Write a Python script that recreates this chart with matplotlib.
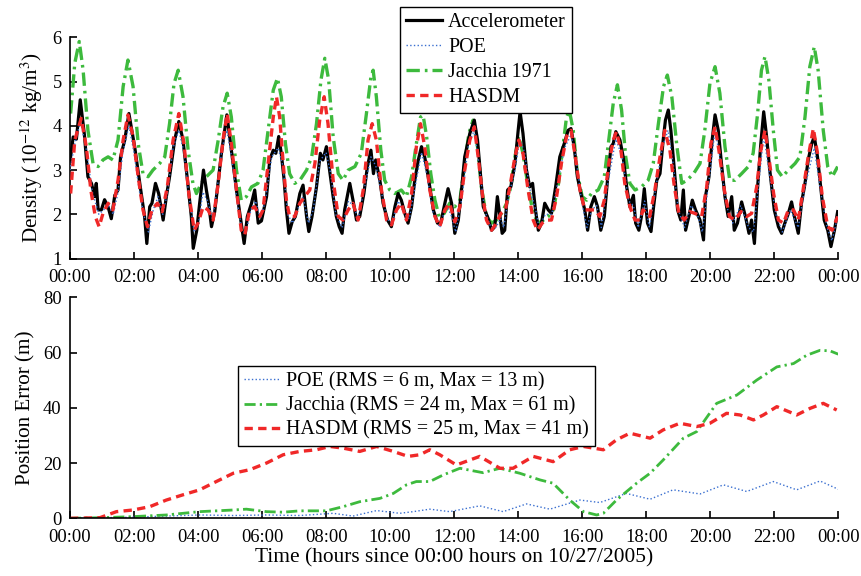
import numpy as np
import matplotlib.pyplot as plt

plt.rcParams['font.family'] = ['Liberation Serif', 'DejaVu Serif']
plt.rcParams['mathtext.fontset'] = 'stix'
plt.rcParams['font.size'] = 13.3

# ---- density (top), time in hours since 00:00
acc_t = [0.0, 0.1, 0.2, 0.32, 0.45, 0.56, 0.67, 0.77, 0.82, 0.88, 0.98, 1.08, 1.19, 1.29, 1.4, 1.5, 1.58, 1.71, 1.84,
         2.02, 2.18, 2.33, 2.4, 2.49, 2.56, 2.67, 2.77, 2.91, 3.01, 3.11, 3.27, 3.4,
         3.53, 3.67, 3.79, 3.85, 3.96, 4.05, 4.17, 4.26, 4.33, 4.42, 4.52, 4.6, 4.73, 4.9,
         5.04, 5.2, 5.35, 5.44, 5.54, 5.67, 5.77, 5.88, 5.98,
         6.14, 6.24, 6.35, 6.43, 6.52, 6.6, 6.69, 6.76, 6.84, 6.94, 7.04, 7.18, 7.28, 7.39, 7.46, 7.56, 7.7, 7.82, 7.9, 8.01,
         8.11, 8.22, 8.32, 8.41, 8.5, 8.58, 8.74, 8.84, 8.95, 9.05, 9.18, 9.29, 9.4, 9.48, 9.55, 9.68, 9.78, 9.92,
         10.04, 10.15, 10.25, 10.35, 10.46, 10.56, 10.67, 10.77, 10.88, 10.98, 11.08, 11.19, 11.35, 11.48, 11.58,
         11.71, 11.81, 11.92, 12.02, 12.13, 12.23, 12.33, 12.49, 12.63, 12.73, 12.83, 12.91, 13.04, 13.17, 13.27,
         13.35, 13.43, 13.5, 13.58, 13.67, 13.77, 13.9, 14.0, 14.06, 14.15, 14.26, 14.36, 14.45, 14.54, 14.63,
         14.73, 14.83, 14.94, 15.04, 15.17, 15.3, 15.44, 15.56, 15.65, 15.75, 15.85, 15.98, 16.08, 16.17, 16.27,
         16.38, 16.48, 16.58, 16.69, 16.79, 16.9, 16.97, 17.05, 17.18, 17.28, 17.39, 17.49, 17.6, 17.67, 17.77,
         17.85, 17.94, 18.04, 18.15, 18.23, 18.33, 18.43, 18.53, 18.6, 18.69, 18.77, 18.88, 18.98, 19.08, 19.16,
         19.23, 19.33, 19.44, 19.54, 19.68, 19.79, 19.85, 19.96, 20.06, 20.15, 20.25, 20.35, 20.46, 20.56, 20.67,
         20.75, 20.85, 20.98, 21.1, 21.21, 21.29, 21.38, 21.48, 21.58, 21.67, 21.76, 21.86, 22.0, 22.13, 22.23,
         22.33, 22.44, 22.54, 22.63, 22.75, 22.85, 22.96, 23.06, 23.17, 23.25, 23.35, 23.46, 23.56, 23.67, 23.77,
         23.88, 23.98]
acc_v = [3.2, 3.75, 3.7, 4.59, 3.8, 2.85, 2.7, 2.4, 2.7, 2.1, 2.1, 2.33, 2.17, 1.9, 2.43, 2.55, 3.3, 3.68, 4.28,
         3.53, 2.7, 1.95, 1.34, 2.17, 2.25, 2.7, 2.47, 1.87, 2.4, 2.85, 3.68, 4.1,
         3.68, 2.77, 1.95, 1.23, 1.64, 2.25, 3.0, 2.55, 2.25, 1.72, 2.06, 2.55, 3.38, 4.25,
         3.45, 2.55, 1.8, 1.34, 1.95, 2.25, 2.55, 1.8, 1.85,
         2.4, 3.23, 3.45, 3.38, 3.76, 3.38, 2.77, 2.1, 1.57, 1.83, 1.95, 2.47, 2.66, 1.95, 1.61, 1.95, 2.62, 3.38, 3.23, 3.53,
         3.0, 2.4, 1.95, 1.72, 1.57, 2.1, 2.7, 2.32, 1.87, 1.95, 2.47, 3.08, 3.45, 2.92, 3.23, 2.77, 2.25, 1.87,
         1.72, 2.17, 2.47, 2.32, 2.02, 1.8, 2.17, 2.77, 3.23, 3.53, 3.3, 2.85, 2.1, 1.8, 1.8,
         2.25, 2.58, 2.25, 1.57, 1.87, 2.55, 3.3, 3.83, 4.13, 3.68, 2.85, 2.17, 1.95, 1.64, 1.72,
         2.4, 1.95, 1.57, 1.64, 2.55, 2.62, 3.15, 3.9, 4.32, 3.83, 3.0, 2.62, 2.7, 2.1, 1.64,
         1.8, 2.25, 2.1, 2.02, 2.62, 3.3, 3.6, 3.9, 3.94, 3.53, 2.85, 2.4, 2.1, 1.64, 2.17,
         2.4, 2.17, 1.64, 1.95, 2.77, 3.53, 3.6, 3.87, 3.68, 3.3, 2.62, 2.17, 2.43, 1.8, 1.64,
         1.95, 2.58, 1.8, 1.61, 2.17, 2.77, 2.92, 3.68, 4.13, 4.36, 3.9, 3.0, 2.1, 1.87, 2.55,
         1.64, 1.95, 2.32, 2.1, 1.87, 1.42, 2.4, 2.85, 3.68, 4.25, 3.9, 3.15, 2.4, 1.95, 2.4,
         1.64, 1.8, 2.28, 1.95, 1.57, 1.87, 1.34, 2.62, 3.6, 4.32, 3.76, 3.0, 2.1, 1.72, 1.57,
         1.8, 2.02, 2.28, 1.95, 1.57, 2.25, 2.7, 3.23, 3.6, 3.76, 3.3, 2.55, 1.87, 1.64, 1.27,
         1.64, 2.06]

poe_t = [0.0, 0.15, 0.33, 0.5, 0.7, 0.9, 1.05, 1.2, 1.35, 1.5, 1.65, 1.84, 2.0, 2.15, 2.3, 2.45, 2.6, 2.75, 2.9,
         3.05, 3.22, 3.4, 3.56, 3.72, 3.88, 4.02, 4.15, 4.3, 4.45, 4.6, 4.75, 4.9, 5.05, 5.2, 5.38, 5.5, 5.65,
         5.8, 5.95, 6.1, 6.3, 6.5, 6.65, 6.8, 6.95, 7.1, 7.28, 7.45, 7.6, 7.8, 8.0, 8.15, 8.3, 8.5, 8.7, 8.85,
         9.0, 9.2, 9.4, 9.55, 9.7, 9.9, 10.05, 10.25, 10.45, 10.6, 10.8, 10.98, 11.15, 11.35, 11.55, 11.75,
         11.9, 12.05, 12.25, 12.45, 12.63, 12.8, 12.95, 13.15, 13.3, 13.45, 13.55, 13.7, 13.9, 14.05, 14.2,
         14.35, 14.55, 14.65, 14.85, 15.05, 15.2, 15.45, 15.65, 15.8, 15.98, 16.15, 16.3, 16.45, 16.6, 16.8,
         17.05, 17.25, 17.45, 17.6, 17.75, 17.95, 18.1, 18.3, 18.5, 18.68, 18.85, 19.0, 19.2, 19.4, 19.6,
         19.75, 19.95, 20.15, 20.3, 20.5, 20.7, 20.95, 21.2, 21.35, 21.5, 21.67, 21.85, 22.05, 22.25, 22.5,
         22.75, 22.95, 23.25, 23.45, 23.65, 23.8, 24.0]
poe_v = [3.0, 3.6, 4.1, 3.5, 2.5, 2.0, 2.1, 2.2, 2.0, 2.5, 3.4, 4.0, 3.4, 2.6, 2.0, 1.6, 2.1, 2.4, 2.0,
         2.5, 3.5, 3.9, 3.4, 2.4, 1.6, 1.8, 2.5, 2.3, 1.9, 2.6, 3.5, 3.9, 3.3, 2.4, 1.6, 1.6, 2.1,
         2.3, 1.9, 2.3, 3.3, 3.5, 3.1, 2.0, 1.8, 2.1, 2.4, 1.8, 2.1, 3.2, 3.4, 2.9, 2.0, 1.7, 2.3, 2.2,
         1.9, 2.6, 3.3, 3.1, 2.6, 1.9, 1.8, 2.3, 2.0, 1.9, 2.7, 3.4, 2.9, 2.0, 1.7, 2.2,
         2.0, 1.6, 2.4, 3.6, 3.9, 3.0, 2.1, 1.7, 1.7, 1.9, 1.7, 2.4, 3.0, 3.7, 3.4,
         2.6, 2.1, 1.7, 2.0, 2.0, 2.6, 3.5, 3.8, 3.3, 2.3, 1.7, 2.1, 2.2, 1.7, 2.7,
         3.7, 3.3, 2.3, 2.2, 1.7, 2.3, 1.7, 2.6, 3.5, 3.9, 3.1, 2.1, 1.7, 2.2, 2.0,
         1.6, 2.7, 3.9, 3.3, 2.2, 1.8, 2.2, 1.7, 1.6, 2.6, 3.8, 2.9, 2.0, 1.6, 2.1,
         1.7, 2.6, 3.5, 2.5, 1.7, 1.4, 2.0]

jac_t = [0.02, 0.15, 0.29, 0.41, 0.56, 0.72, 0.88, 1.03, 1.19, 1.34, 1.5, 1.66, 1.81, 1.97, 2.13, 2.28, 2.44,
         2.59, 2.8, 2.96, 3.11, 3.25, 3.38, 3.53, 3.69, 3.84, 3.95, 4.1, 4.26, 4.47, 4.63, 4.78, 4.91, 5.04,
         5.2, 5.35, 5.51, 5.67, 5.87, 6.03, 6.19, 6.35, 6.48, 6.6, 6.73, 6.86, 7.02, 7.18, 7.39, 7.55, 7.7,
         7.84, 7.96, 8.08, 8.22, 8.38, 8.53, 8.69, 8.9, 9.1, 9.26, 9.4, 9.47, 9.57, 9.71, 9.83, 9.99, 10.15,
         10.35, 10.51, 10.67, 10.82, 10.95, 11.03, 11.14, 11.27, 11.4, 11.53, 11.69, 11.86, 12.02, 12.18,
         12.33, 12.46, 12.59, 12.73, 12.85, 13.01, 13.17, 13.32, 13.48, 13.64, 13.77, 13.9, 14.02, 14.15,
         14.31, 14.47, 14.63, 14.79, 14.94, 15.1, 15.26, 15.41, 15.51, 15.6, 15.72, 15.85, 16.0, 16.14,
         16.29, 16.5, 16.69, 16.83, 16.97, 17.1, 17.23, 17.36, 17.49, 17.65, 17.85, 18.06, 18.22, 18.38,
         18.54, 18.66, 18.8, 18.96, 19.11, 19.27, 19.48, 19.68, 19.83, 19.99, 20.15, 20.3, 20.46, 20.61,
         20.77, 20.98, 21.19, 21.34, 21.48, 21.6, 21.71, 21.83, 21.97, 22.1, 22.25, 22.44, 22.65, 22.8,
         22.96, 23.11, 23.25, 23.37, 23.53, 23.67, 23.81, 23.98]
jac_v = [4.28, 5.42, 5.91, 5.26, 3.9, 3.15, 3.08, 3.23, 3.3, 3.23, 3.68, 4.89, 5.49, 4.89, 3.6, 2.92, 2.85,
         3.0, 3.15, 3.3, 4.05, 4.96, 5.26, 4.66, 3.45, 2.7, 2.47, 2.7, 2.85, 3.0, 3.68, 4.43, 4.74, 4.2,
         3.0, 2.32, 2.4, 2.62, 2.7, 3.0, 3.9, 4.81, 5.08, 4.66, 3.6, 2.92, 2.7, 2.77, 3.0, 3.3, 4.05,
         5.04, 5.53, 5.04, 3.76, 2.92, 2.77, 3.0, 3.08, 3.38, 4.28, 5.11, 5.26, 4.66, 3.45, 2.77, 2.55, 2.47,
         2.55, 2.4, 2.85, 3.6, 4.2, 4.24, 3.76, 2.92, 2.32, 1.95, 2.02, 2.25, 2.17, 2.32,
         3.15, 3.83, 4.13, 3.53, 2.62, 1.95, 1.8, 1.87, 2.02, 2.25, 2.62, 3.3, 3.76, 3.38,
         2.62, 2.02, 1.8, 1.87, 1.95, 2.1, 2.7, 3.6, 4.2, 4.35, 3.9, 2.92, 2.4, 2.32,
         2.47, 2.55, 2.85, 3.68, 4.51, 4.93, 4.36, 3.3, 2.7, 2.55, 2.62, 2.77, 3.15, 4.05,
         4.89, 5.15, 4.66, 3.53, 2.7, 2.77, 2.92, 3.15, 3.9, 4.96, 5.34, 4.74, 3.53, 2.77,
         2.77, 2.92, 3.08, 3.38, 4.28, 5.26, 5.57, 5.04, 3.9, 3.0, 2.85, 3.0, 3.15, 3.3,
         4.2, 5.34, 5.79, 5.26, 3.9, 3.08, 2.85, 3.08]

has_t = [0.02, 0.15, 0.35, 0.51, 0.65, 0.79, 0.91, 1.03, 1.19, 1.34, 1.5, 1.66, 1.81, 1.97, 2.13, 2.28, 2.42,
         2.56, 2.73, 2.88, 3.04, 3.22, 3.4, 3.56, 3.71, 3.88, 4.0, 4.16, 4.31, 4.47, 4.63, 4.78, 4.91, 5.04,
         5.2, 5.35, 5.46, 5.61, 5.77, 5.93, 6.03, 6.19, 6.35, 6.45, 6.55, 6.66, 6.76, 6.86, 7.02, 7.18, 7.33,
         7.49, 7.65, 7.8, 7.94, 8.06, 8.22, 8.38, 8.53, 8.69, 8.84, 9.0, 9.16, 9.31, 9.44, 9.57, 9.73, 9.89,
         10.04, 10.2, 10.35, 10.51, 10.67, 10.82, 10.95, 11.08, 11.24, 11.4, 11.55, 11.71, 11.86, 12.02,
         12.18, 12.33, 12.49, 12.63, 12.75, 12.88, 13.01, 13.17, 13.32, 13.46, 13.6, 13.74, 13.9, 14.02,
         14.15, 14.31, 14.47, 14.6, 14.75, 14.88, 15.04, 15.2, 15.35, 15.51, 15.65, 15.77, 15.93, 16.08,
         16.24, 16.4, 16.55, 16.69, 16.83, 16.97, 17.07, 17.21, 17.33, 17.49, 17.65, 17.8, 17.9, 18.11,
         18.27, 18.43, 18.58, 18.74, 18.88, 19.02, 19.19, 19.36, 19.52, 19.73, 19.89, 20.02, 20.15, 20.27,
         20.44, 20.6, 20.77, 20.96, 21.14, 21.29, 21.45, 21.58, 21.71, 21.83, 21.98, 22.13, 22.29, 22.44,
         22.6, 22.75, 22.9, 23.06, 23.22, 23.35, 23.5, 23.67, 23.81, 23.98]
has_v = [2.47, 3.68, 4.17, 3.53, 2.55, 1.95, 1.72, 2.02, 2.25, 2.1, 2.77, 3.68, 4.25, 3.76, 2.85, 2.1, 1.72,
         2.1, 2.25, 2.06, 2.62, 3.68, 4.28, 3.6, 2.47, 1.64, 1.8, 2.17, 2.1, 1.87, 2.7, 3.68, 4.28, 3.6,
         2.55, 1.64, 1.53, 2.1, 2.17, 1.95, 2.1, 3.15, 4.2, 4.66, 4.2, 3.15, 2.32, 1.95, 1.95, 2.25, 2.4,
         2.55, 3.15, 4.13, 4.66, 4.05, 2.77, 1.95, 1.87, 2.1, 2.25, 1.87, 2.55, 3.68, 4.05, 3.68, 2.55, 1.87,
         1.76, 2.1, 2.25, 1.87, 2.47, 3.53, 4.05, 3.53, 2.55, 1.95, 1.72, 2.1, 2.25, 1.83,
         2.17, 3.0, 3.68, 3.98, 3.3, 2.47, 1.87, 1.64, 1.8, 2.02, 2.1, 2.62, 3.3, 3.68,
         3.38, 2.55, 1.87, 1.64, 1.8, 1.87, 1.87, 2.4, 3.15, 3.76, 3.9, 3.38, 2.55, 2.1,
         2.1, 2.1, 1.95, 2.32, 3.15, 3.68, 3.87, 3.45, 2.7, 2.17, 1.87, 1.87, 2.1, 1.95,
         2.55, 3.3, 3.9, 3.45, 2.62, 2.02, 1.87, 2.06, 2.02, 1.95, 2.62, 3.6, 3.98, 3.45,
         2.55, 1.95, 1.87, 2.06, 1.95, 2.02, 2.62, 3.45, 3.9, 3.3, 2.47, 1.87, 1.8, 2.1,
         2.1, 1.87, 2.55, 3.3, 3.94, 3.38, 2.4, 1.72, 1.64, 1.95]

# ---- position error (bottom)
perr_poe_t = [0.0, 1.97, 4.05, 5.1, 6.14, 7.18, 8.22, 8.84, 9.58, 10.3, 10.72, 11.24, 11.86, 12.8, 13.53,
              14.26, 14.99, 15.93, 16.55, 17.38, 18.12, 18.84, 19.68, 20.41, 21.14, 21.97, 22.7, 23.43, 24.0]
perr_poe_v = [0.0, 0.4, 1.2, 1.0, 1.2, 1.0, 1.8, 0.8, 2.8, 1.8, 2.4, 3.3, 2.4, 4.5, 2.4,
              5.2, 3.3, 6.6, 5.7, 9.0, 6.9, 10.3, 8.8, 12.1, 9.7, 13.3, 10.3, 13.5, 10.5]

perr_jac_t = [0.0, 0.93, 1.97, 3.01, 4.05, 5.1, 5.51, 6.14, 6.66, 7.18, 8.01, 8.53, 9.05, 9.68, 10.1, 10.51,
              10.82, 11.24, 11.66, 12.18, 12.9, 13.43, 14.05, 14.68, 15.09, 15.61, 16.04, 16.45, 16.66,
              17.07, 17.7, 18.12, 18.53, 19.16, 19.58, 20.2, 20.83, 21.45, 22.08, 22.6, 23.01, 23.43,
              23.74, 24.0]
perr_jac_v = [0.0, 0.2, 0.6, 1.2, 2.4, 3.0, 3.3, 2.4, 2.2, 2.7, 2.7, 4.2, 6.0, 7.2, 9.0, 12.1,
              13.3, 13.3, 15.7, 18.1, 16.5, 18.1, 16.3, 13.9, 12.7, 6.6, 2.4, 1.2, 1.8,
              6.6, 12.7, 16.3, 21.1, 29.0, 31.4, 41.6, 44.6, 50.0, 54.8, 56.0, 59.0, 60.8,
              60.6, 59.4]

perr_has_t = [0.0, 0.93, 1.45, 1.97, 2.49, 3.01, 3.53, 4.05, 4.57, 5.1, 5.62, 6.14, 6.66, 7.18, 7.7, 8.12,
              8.53, 9.05, 9.58, 10.1, 10.56, 10.93, 11.24, 11.55, 12.07, 12.8, 13.43, 13.84, 14.47, 15.09,
              15.61, 16.04, 16.66, 17.07, 17.49, 18.12, 18.53, 19.05, 19.58, 19.99, 20.51, 20.93, 21.35,
              21.66, 22.08, 22.7, 23.12, 23.53, 23.95]
perr_has_v = [0.0, 0.2, 2.4, 3.0, 4.2, 6.6, 8.5, 10.3, 13.3, 16.3, 17.6, 20.0, 23.0, 24.2, 24.8, 26.0,
              25.4, 24.2, 26.0, 24.2, 22.4, 23.0, 24.8, 23.0, 19.3, 22.4, 18.1, 18.1, 22.4, 20.5,
              24.8, 26.0, 24.8, 28.4, 30.8, 29.0, 32.0, 34.4, 33.2, 34.4, 38.0, 37.4, 35.6,
              37.4, 40.4, 37.4, 39.8, 41.6, 39.2]

tick_hours = list(range(0, 25, 2))
tick_labels = ['%02d:00' % (h % 24) for h in tick_hours]

c_blue = '#3a6fd0'
c_green = '#3dba3d'
c_red = '#f02828'

fig = plt.figure(figsize=(8.62, 5.76), dpi=100)
ax1 = fig.add_axes([0.0812, 0.5512, 0.8913, 0.3837])
ax2 = fig.add_axes([0.0812, 0.1002, 0.8913, 0.3837])

ax1.plot(acc_t, acc_v, color='black', lw=2.3, label='Accelerometer', zorder=3)
ax1.plot(poe_t, poe_v, color=c_blue, lw=1.0, ls=':', label='POE', zorder=4)
ax1.plot(jac_t, jac_v, color=c_green, lw=2.4, dashes=(4, 1.5, 0.8, 1.5), label='Jacchia 1971', zorder=2)
ax1.plot(has_t, has_v, color=c_red, lw=2.4, dashes=(2.5, 1.6), label='HASDM', zorder=5)
ax1.set_ylim(1, 6)
ax1.set_yticks([1, 2, 3, 4, 5, 6])
ax1.set_ylabel('Density (10$^{-12}$ kg/m$^3$)', fontsize=15.2, labelpad=5)
ax1.legend(loc='upper left', bbox_to_anchor=(400 / 862, 1 - 7 / 576), bbox_transform=fig.transFigure,
           fancybox=False, edgecolor='black', framealpha=1, handlelength=1.8, handletextpad=0.3,
           borderpad=0.3, labelspacing=0.3, borderaxespad=0, fontsize=14.4)

ax2.plot(perr_poe_t, perr_poe_v, color=c_blue, lw=1.0, ls=':', label='POE (RMS = 6 m, Max = 13 m)')
ax2.plot(perr_jac_t, perr_jac_v, color=c_green, lw=2.0, dashes=(4, 1.5, 0.8, 1.5),
         label='Jacchia (RMS = 24 m, Max = 61 m)')
ax2.plot(perr_has_t, perr_has_v, color=c_red, lw=2.4, dashes=(2.5, 1.6),
         label='HASDM (RMS = 25 m, Max = 41 m)')
ax2.set_ylim(0, 80)
ax2.set_yticks([0, 20, 40, 60, 80])
ax2.set_ylabel('Position Error (m)', fontsize=15.2, labelpad=5)
ax2.set_xlabel('Time (hours since 00:00 hours on 10/27/2005)', fontsize=15.4, labelpad=2)
ax2.legend(loc='upper left', bbox_to_anchor=(238 / 862, 1 - 366 / 576), bbox_transform=fig.transFigure,
           fancybox=False, edgecolor='black', framealpha=1, handlelength=1.8, handletextpad=0.3,
           borderpad=0.3, labelspacing=0.25, borderaxespad=0, fontsize=14.4)

for ax in (ax1, ax2):
    ax.set_xlim(0, 24)
    ax.set_xticks(tick_hours)
    ax.set_xticklabels(tick_labels)
    ax.spines['top'].set_visible(False)
    ax.spines['right'].set_visible(False)
    ax.spines['left'].set_linewidth(1.2)
    ax.spines['bottom'].set_linewidth(1.2)
    ax.tick_params(direction='in', length=5, width=1.2, labelsize=13.3)
    ax.tick_params(axis='x', pad=7.5)
    ax.tick_params(axis='y', pad=6)

fig.savefig('out.png', dpi=100)
